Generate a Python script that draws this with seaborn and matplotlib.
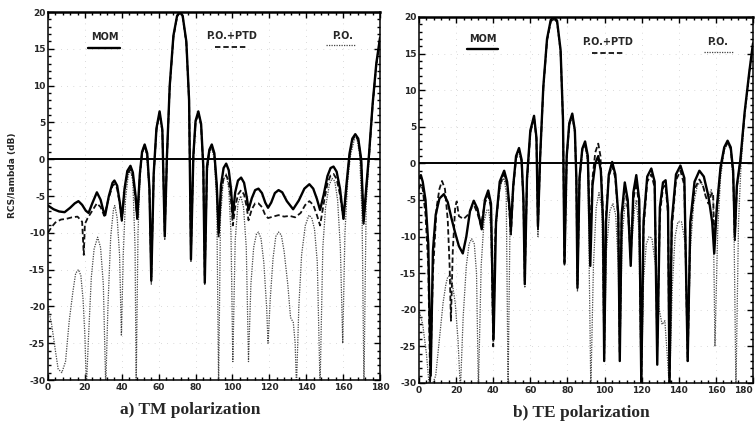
import matplotlib
matplotlib.use("Agg")
import matplotlib.pyplot as plt
from matplotlib.lines import Line2D
from matplotlib.ticker import MultipleLocator
import seaborn as sns
import pandas as pd

# ---------------- data ----------------
tm_mom_deg = [0, 3, 6, 9, 12, 14.5, 16.5, 18.5, 20.5, 22, 24, 26.5, 28.5, 30, 31, 33, 35, 36, 37.5, 39, 40,
              41.5, 43, 44.7, 46, 47.5, 48.4, 49.8, 51, 52.4, 53.8, 55, 56, 57.3, 58.8, 60.5, 62, 63.3, 64.5,
              66, 68, 70, 71.5, 73, 75, 76.5, 77.5, 78.8, 80, 81.5, 83, 84.2, 85, 86.2, 87.5, 88.8, 90.2, 91.5,
              92.5, 93.8, 95.2, 96.6, 98, 99.2, 100.2, 101.5, 103, 104.7, 106.3, 107.8, 108.7, 110.5, 112.3,
              114.1, 116, 117.8, 119.3, 121, 123, 125, 127, 129.5, 132.9, 136, 139, 141.7, 143.8, 145.8, 147.5,
              149.5, 151.5, 153.2, 154.8, 156.5, 158.3, 160.2, 161.8, 163.5, 165, 166.6, 168.2, 169.8, 171.1,
              172.5, 174, 176, 178, 180]
tm_mom_db = [-6.3, -6.8, -7.1, -7.2, -6.6, -6.0, -5.7, -6.2, -7.0, -7.3, -6.0, -4.5, -5.5, -7.0, -7.6, -5.0,
             -3.2, -2.9, -3.6, -6.0, -8.2, -4.0, -1.6, -0.9, -1.8, -5.0, -8.0, -2.0, 1.0, 2.0, 0.8, -4.0, -16.5,
             -2.0, 4.2, 6.5, 4.0, -10.5, 0.5, 10, 16.8, 19.5, 20.0, 19.5, 16.0, 8.0, -13.6, 0.5, 5.2, 6.5, 4.8,
             -1, -16.8, -1, 1.3, 2.0, 0.8, -3.5, -10.0, -3.5, -1.2, -0.6, -1.5, -4, -7.6, -4.5, -2.9, -2.5, -3.2,
             -5.2, -6.9, -5.3, -4.2, -4.0, -4.6, -5.9, -6.6, -5.9, -4.6, -4.2, -4.5, -5.7, -6.8, -5.6, -4.0, -3.4,
             -4.0, -5.4, -6.9, -4.8, -2.3, -1.2, -1.0, -1.7, -4.0, -8.1, -3.5, 0.8, 2.8, 3.4, 2.8, 0.0, -8.5,
             -4.0, 0.5, 7.5, 13.0, 16.5]

tm_ptd_deg = [0, 2, 4, 7, 10, 13, 16, 18.5, 19.4, 20, 21.5, 23.5, 26.5, 28.5, 30.5, 33, 35, 36, 37.5, 39, 40,
              41.5, 43, 44.7, 46, 47.5, 48.4, 49.8, 51, 52.4, 53.8, 55, 56, 57.3, 58.8, 60.5, 62, 63.3, 64.5,
              66, 68, 70, 71.5, 73, 75, 76.5, 77.5, 78.8, 80, 81.5, 83, 84.2, 85, 86.2, 87.5, 88.8, 90.2, 91.5,
              92.5, 93.8, 95.2, 96.6, 98, 99.2, 100.2, 101.5, 103, 104.7, 106.3, 107.8, 108.7, 110.5, 112.3,
              114.1, 116, 117.8, 119.3, 122, 125, 128, 131, 134, 137, 139.5, 141.7, 143.8, 145.8, 147.5, 149.5,
              151.5, 153.2, 154.8, 156.5, 158.3, 160.2, 161.8, 163.5, 165, 166.6, 168.2, 169.8, 171.1, 172.5,
              174, 176, 178, 180]
tm_ptd_db = [-10.0, -9.2, -8.6, -8.2, -8.1, -7.9, -7.8, -8.5, -13.0, -8.8, -8.0, -7.2, -6.0, -6.5, -7.7, -5.2,
             -3.6, -3.4, -4.0, -6.2, -8.4, -4.3, -2.0, -1.4, -2.3, -5.5, -8.3, -2.2, 0.8, 1.8, 0.6, -4.2, -16.0,
             -2.2, 4.0, 6.3, 3.8, -10.0, 0.3, 9.8, 16.6, 19.4, 19.9, 19.4, 15.8, 7.8, -13.0, 0.3, 5.0, 6.3, 4.6,
             -1.2, -16.0, -1.2, 1.1, 1.8, 0.6, -3.8, -10.5, -4.5, -2.6, -2.2, -3.0, -5.5, -9.0, -6.5, -4.8, -4.2,
             -4.8, -6.6, -8.3, -6.8, -6.0, -6.0, -6.5, -7.6, -8.0, -7.8, -7.6, -7.8, -7.7, -7.9, -7.3, -6.2,
             -5.7, -6.2, -7.6, -9.0, -6.0, -3.3, -2.2, -2.0, -2.7, -4.8, -8.1, -3.8, 0.5, 2.6, 3.2, 2.6, -0.3,
             -8.8, -4.2, 0.3, 7.3, 12.8, 16.3]

tm_po_deg = [0, 2, 4, 5.5, 7.5, 9.5, 11.5, 13.5, 15, 16.5, 17.8, 19, 20, 20.8, 22, 23.5, 25, 26.9, 28.5, 30,
             31.3, 32.5, 34, 35.5, 36.2, 37.5, 38.8, 39.8, 40.8, 42, 43.5, 44.7, 46, 47.2, 47.8, 48.8, 50, 51.5,
             52.4, 53.5, 55, 56, 57.3, 58.8, 60.5, 62, 63.3, 64.5, 66, 68, 70, 71.5, 73, 75, 76.5, 77.5, 78.8,
             80, 81.5, 83, 84.2, 85, 86.2, 87.5, 88.8, 90.2, 91.5, 92.5, 93.5, 95, 96.6, 98, 99.2, 100.2, 101.5,
             103, 104.5, 106, 107.5, 108.7, 110, 111.5, 113, 114.1, 115.5, 117, 118.5, 119.3, 120.5, 122, 123.5,
             125, 126.5, 128, 130, 131.5, 133, 134, 134.7, 136, 137.5, 139.5, 141.5, 143, 144.5, 146, 147.5,
             149, 150.5, 152.5, 154, 155.5, 157, 158.5, 159.8, 161, 162.5, 164, 166, 167.5, 169, 170.3, 171.3,
             172.5, 174, 176, 178, 180]
tm_po_db = [-20.0, -22.5, -26.0, -28.5, -29.0, -27.5, -22.0, -18.0, -15.5, -15.0, -15.8, -19.0, -24.0, -31,
            -24, -16, -12.2, -10.6, -12.0, -17, -31, -20, -10.5, -6.8, -6.3, -8.0, -13, -24, -13, -5.5, -2.2,
            -1.5, -3.0, -12, -31, -10, -1.5, 1.5, 1.9, 0.5, -4.5, -17, -2.5, 3.8, 6.3, 3.6, -11, 0.2, 9.7, 16.5,
            19.4, 19.9, 19.4, 15.8, 7.7, -14, 0.2, 4.9, 6.3, 4.5, -1.5, -17, -2, 0.8, 1.6, 0, -6, -31, -8, -3,
            -2.0, -4.0, -10, -27.5, -11, -6.0, -5.0, -6.5, -12, -27.5, -17, -12, -10.2, -9.9, -10.8, -14, -20,
            -25, -19, -13.5, -10.5, -9.9, -10.3, -12.5, -17, -21.5, -22.2, -25, -31, -20, -13, -9.0, -7.6, -8.0,
            -9.5, -14, -31, -12, -6.5, -3.5, -2.6, -3, -5.5, -12, -25, -10, -3, 0.5, 2.6, 2.8, 0.5, -8, -31, -6,
            -0.5, 7.2, 12.8, 16.3]

te_mom_deg = [0, 1, 2, 3.5, 5, 6.3, 7.5, 9, 11, 13.4, 15.5, 17.5, 19.5, 21.5, 23.6, 25.5, 27.5, 29.5, 31.5,
              33.8, 35.5, 37.3, 38.8, 40.2, 41.5, 43.5, 45.9, 47.5, 48.8, 49.5, 50.8, 52.3, 53.9, 55.3, 56.3, 57,
              58.2, 60, 62, 63.3, 64.1, 65.3, 67, 69, 71, 72.7, 74.4, 76.3, 77.6, 78.4, 79.6, 81, 82.6, 84, 84.8,
              85.4, 86.5, 88, 89.5, 91, 92.3, 93.5, 95, 96.6, 98, 99.2, 99.8, 100.8, 102.3, 104.1, 105.8, 107.4,
              108.2, 109.2, 110.9, 112.5, 114.1, 115.5, 117.1, 118.7, 119.8, 121, 123, 125.2, 127, 128.4, 129.8,
              131.5, 132.9, 134.2, 135.0, 136.2, 138.5, 140.9, 143, 144.8, 146.2, 148.5, 151.1, 153.5, 156, 158,
              159.1, 160.5, 162.5, 164.5, 166.3, 168, 169.3, 170.2, 171.3, 173.2, 175.5, 178, 180]
te_mom_db = [-2.0, -1.6, -2.5, -5, -11, -29, -12, -7, -4.8, -4.2, -5.3, -7.5, -9.5, -11.3, -12.3, -10.0, -6.5,
             -5.1, -6.2, -9.0, -5.0, -3.7, -5.5, -24, -8, -2.5, -1.0, -2.5, -6, -9.2, -3, 1.0, 2.1, 0.5, -5, -16.5,
             -2, 4.5, 6.5, 3.5, -8.6, 1.0, 10.5, 17, 19.6, 20.0, 19.5, 15.5, 6, -13.7, 1.0, 5.5, 6.8, 4.5, -2,
             -17, -2, 2, 3.0, 1.0, -14, -3, 0, 1.0, -1, -8, -27, -8, -1.5, 0.2, -1.5, -7, -27, -7, -2.6, -5, -14,
             -4, -1.6, -5, -30, -8, -1.8, -0.7, -2.5, -27.5, -6, -2.6, -2.3, -6, -30, -8, -1.5, -0.3, -2, -27, -8,
             -2.5, -1.0, -1.8, -4.5, -8, -12.3, -6, -0.5, 2.2, 3.1, 2.2, -1, -10, -3, 0.5, 7, 12.5, 16.4]

te_ptd_deg = [0, 1, 2, 3.5, 5, 6, 7.5, 9.5, 11, 12.4, 14, 15.5, 16.5, 17.2, 18.2, 19.5, 20.3, 21.5, 24, 26.5,
              28.5, 29.8, 31.5, 33.4, 35.5, 37.3, 38.8, 40, 41.2, 43.5, 45.9, 47.5, 48.8, 49.5, 50.8, 52.3, 53.9,
              55.3, 56.3, 57, 58.2, 60, 62, 63.3, 64.1, 65.3, 67, 69, 71, 72.7, 74.4, 76.3, 77.6, 78.4, 79.6, 81,
              82.6, 84, 84.8, 85.4, 86.5, 88, 89.5, 91, 92.3, 93.5, 95, 96.6, 97.8, 99, 99.8, 100.8, 102.3, 104.1,
              105.8, 107.4, 108.2, 109.2, 110.9, 112.5, 114.1, 115.5, 117.1, 118.7, 119.8, 121, 123, 125.2, 127,
              128.4, 129.8, 131.5, 132.9, 134.2, 135.0, 136.2, 138.5, 140.9, 143, 144.8, 146.2, 148.5, 151.1,
              153, 154.5, 156, 157.5, 158.5, 159.1, 160.5, 162.5, 164.5, 166.3, 168, 169.3, 170.2, 171.3, 173.2,
              175.5, 178, 180]
te_ptd_db = [-3.5, -2.8, -3.5, -7, -14, -30, -15, -6, -3.5, -2.4, -3.5, -7.8, -14, -21.5, -12, -6, -5.2, -7.2,
             -7.6, -7.0, -6.0, -5.8, -6.8, -8.5, -5.4, -4.4, -6, -25, -9, -3, -1.5, -3, -7, -10, -3.5, 0.7, 1.8,
             0.2, -5.5, -16, -2.3, 4.2, 6.3, 3.3, -9, 0.8, 10.3, 16.8, 19.4, 19.8, 19.3, 15.3, 5.8, -13.5, 0.8,
             5.3, 6.6, 4.3, -2.2, -16.5, -2.2, 1.8, 2.7, 0.5, -10, -2, 1.5, 2.7, 1.0, -6, -26, -7, -1.8, -0.3, -2,
             -7.5, -26, -8, -3.2, -6, -13, -5, -2.6, -6, -30, -9, -2.5, -1.5, -3.3, -25, -7, -3.3, -3.0, -7, -30,
             -9, -2.3, -1.0, -3, -27, -9, -3.5, -2.2, -3.0, -4.5, -5.5, -4.2, -4.0, -10, -6.5, -0.8, 2.0, 2.9,
             2.0, -1.3, -10.5, -3.3, 0.3, 6.8, 12.3, 16.2]

te_po_deg = [0, 2, 4, 5.7, 7.5, 9, 11, 13, 14.5, 15.5, 16.8, 18, 19.5, 21, 22.3, 23.8, 25.5, 27, 28.4, 29.8,
             31, 32, 33.5, 35, 36.5, 37.5, 38.8, 39.8, 40.8, 42.5, 44.5, 45.9, 47, 48, 49, 50.8, 52.3, 53.9,
             55.3, 56.3, 57, 58.2, 60, 62, 63.3, 64.1, 65.3, 67, 69, 71, 72.7, 74.4, 76.3, 77.6, 78.4, 79.6, 81,
             82.6, 84, 84.8, 85.4, 86.5, 88, 89.5, 91, 92.6, 94, 95.5, 97, 98.5, 99.8, 101, 102.8, 104.5, 106,
             107.4, 108.2, 109.5, 111, 112.3, 113.5, 115, 116, 117.1, 118.5, 119.8, 121, 122.5, 124, 125.5,
             127.5, 129.5, 131, 132.5, 134, 135, 136.5, 138, 139.5, 141.5, 143.5, 144.8, 146.2, 148, 150, 151.5,
             153, 154.5, 156, 157.5, 158.5, 159.5, 161, 162.5, 164.5, 166.3, 168, 169.5, 170.8, 172.2, 173.5,
             175.5, 178, 180]
te_po_db = [-20.0, -22, -26, -31, -30, -29, -24, -19, -16.5, -15.5, -15.3, -16.5, -19, -24, -31, -21, -14, -11,
            -10.3, -11, -15, -31, -14, -8, -6.4, -6.3, -9, -24, -12, -5, -2.5, -2.0, -4, -31, -9, -2.5, 0.5, 1.7,
            0, -6, -17, -3, 4, 6.2, 3.2, -10, 0.7, 10.2, 16.7, 19.3, 19.8, 19.3, 15.2, 5.5, -14, 0.7, 5.2, 6.5,
            4.2, -2.5, -17.5, -2.5, 1.6, 2.6, 0, -31, -14, -6, -4, -6, -27, -12, -6.5, -5.5, -7, -14, -27, -10,
            -5.5, -6, -8.5, -10, -6.5, -5, -9, -31, -16, -11, -10, -10.2, -14, -20, -22, -21.5, -27, -31, -17,
            -10, -8, -8, -11, -27, -12, -5.5, -3, -2.6, -3.0, -4.5, -4.5, -3.6, -5, -25, -9, -2, 1.8, 2.7, 1.8,
            -3, -31, -8, -0.5, 6.6, 12.2, 16.2]

x_ticks = [0, 20, 40, 60, 80, 100, 120, 140, 160, 180]
y_ticks = [-30, -25, -20, -15, -10, -5, 0, 5, 10, 15, 20]
legend_labels = ["MOM", "P.O.+PTD", "P.O."]
panel_titles = ["a) TM polarization", "b) TE polarization"]
y_label = "RCS/lambda (dB)"

# ---------------- style ----------------
sns.set_style("ticks")
plt.rcParams["font.family"] = ["DejaVu Sans"]
plt.rcParams["axes.unicode_minus"] = False

W, H = 755, 433
fig = plt.figure(figsize=(W / 100, H / 100), dpi=100)
fig.patch.set_facecolor("white")


def fx(px):
    return px / W


def fy(py):
    return 1 - py / H


axA = fig.add_axes([fx(48), fy(380), fx(380 - 48), (380 - 12) / H])
axB = fig.add_axes([fx(419), fy(383), fx(753 - 419), (383 - 17) / H])

styles = {
    "MOM": dict(color="black", lw=1.7, ls="-"),
    "P.O.+PTD": dict(color="#111111", lw=1.3, ls=(0, (3.0, 1.6))),
    "P.O.": dict(color="#444444", lw=0.9, ls=(0, (1.0, 1.0))),
}

panels = [
    (axA, [(tm_po_deg, tm_po_db, "P.O."), (tm_ptd_deg, tm_ptd_db, "P.O.+PTD"), (tm_mom_deg, tm_mom_db, "MOM")]),
    (axB, [(te_po_deg, te_po_db, "P.O."), (te_ptd_deg, te_ptd_db, "P.O.+PTD"), (te_mom_deg, te_mom_db, "MOM")]),
]

for ax, series in panels:
    for deg, db, name in series:
        df = pd.DataFrame({"angle": deg, "rcs": db})
        st = styles[name]
        sns.lineplot(data=df, x="angle", y="rcs", ax=ax, estimator=None, sort=False,
                     color=st["color"], linewidth=st["lw"], linestyle=st["ls"], legend=False)
    ax.axhline(0, color="black", lw=1.4, zorder=5)
    ax.set_xlim(0, 180)
    ax.set_ylim(-30, 20)
    ax.set_xticks(x_ticks)
    ax.set_yticks(y_ticks)
    ax.xaxis.set_minor_locator(MultipleLocator(4))
    ax.yaxis.set_minor_locator(MultipleLocator(1))
    ax.tick_params(which="both", direction="in", top=True, right=True, width=1.0, color="black")
    ax.tick_params(which="major", length=4, labelsize=6.5, pad=2)
    ax.tick_params(which="minor", length=2.2)
    for lab in ax.get_xticklabels() + ax.get_yticklabels():
        lab.set_fontweight("bold")
    for s in ax.spines.values():
        s.set_linewidth(1.1)
        s.set_color("black")
    ax.spines["top"].set_linewidth(1.8)
    ax.grid(True, which="major", color="0.72", lw=0.5, ls=(0, (1, 8)))
    ax.set_xlabel("")
    ax.set_ylabel("")

# keep the last tick label of panel b inside the picture
axB.get_xticklabels()[-1].set_horizontalalignment("right")

# y label
fig.text(fx(13), fy(175), y_label, rotation=90, ha="center", va="center", fontsize=6.5, fontweight="bold")

# panel titles
serif = ["Liberation Serif", "DejaVu Serif"]
fig.text(fx(190), fy(410), panel_titles[0], ha="center", va="center", fontsize=12.5, family=serif, fontweight="bold")
fig.text(fx(581), fy(413), panel_titles[1], ha="center", va="center", fontsize=12.5, family=serif, fontweight="bold")

# in-plot legend annotations (label above a short line sample)
leg_pos = [
    # (text x, text y, line x0, line x1, line y)
    [(105, 37, 88, 120, 48), (232, 36, 215, 247, 47), (343, 36, 326, 356, 45)],
    [(483, 39, 467, 498, 49), (608, 42, 592, 625, 53), (718, 42, 704, 733, 52)],
]
for pan in leg_pos:
    for (tx, ty, x0, x1, ly), name in zip(pan, legend_labels):
        fig.text(fx(tx), fy(ty), name, ha="center", va="center", fontsize=7, fontweight="bold")
        st = styles[name]
        fig.add_artist(Line2D([fx(x0), fx(x1)], [fy(ly), fy(ly)], color=st["color"],
                              lw=st["lw"], ls=st["ls"]))

fig.savefig("out.png", dpi=100, facecolor="white")
